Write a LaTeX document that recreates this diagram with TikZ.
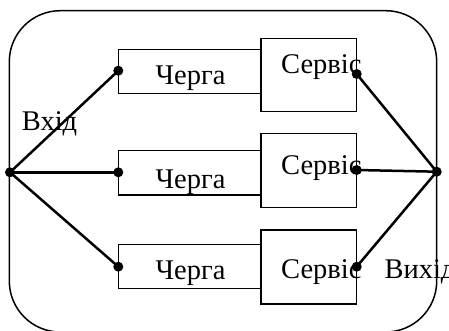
\documentclass[tikz,border=0pt]{standalone}
\usepackage{fontspec}
\setmainfont{Liberation Serif}
\begin{document}
\begin{tikzpicture}[x=1pt,y=-1pt,
  box/.style={draw,line width=1.5pt,fill=white},
  wire/.style={line width=2.5pt},
  dot/.style={circle,fill=black,inner sep=0pt,minimum size=10pt},
  lbl/.style={font=\fontsize{28.5}{30}\selectfont,inner sep=0pt,anchor=base west}]
\useasboundingbox (0,0) rectangle (449,331);
% outer frame
\draw[line width=1.5pt,rounded corners=51pt] (9.3,10.7) rectangle (436.7,332);
% queues
\foreach \n/\t/\b in {1/49.3/93.3, 2/150.7/195, 3/244.3/288.3}
  \draw[box] (118.3,\t) rectangle (261,\b);
% services
\foreach \n/\t/\b in {1/38.3/111.7, 2/133.3/207.3, 3/230/304}
  \draw[box] (261,\t) rectangle (356.7,\b);
% labels
\node[lbl] (q1) at (155.5,85) {Черга};
\node[lbl] (q2) at (155.5,188) {Черга};
\node[lbl] (q3) at (155.5,279.3) {Черга};
\node[lbl] (s1) at (281,73.3) {Сервіс};
\node[lbl] (s2) at (281,175) {Сервіс};
\node[lbl] (s3) at (281,278) {Сервіс};
\node[lbl] (inl) at (21.7,131) {Вхід};
\node[lbl] (outl) at (384.3,278) {Вихід};
% junction points
\node[dot] (in) at (10,172.3) {};
\node[dot] (out) at (436.7,171.7) {};
\node[dot] (qi1) at (118.3,70.7) {};
\node[dot] (qi2) at (118.3,172.3) {};
\node[dot] (qi3) at (118.3,266.7) {};
\node[dot] (so1) at (356.7,74) {};
\node[dot] (so2) at (356.7,170) {};
\node[dot] (so3) at (356.7,266.7) {};
% connectors
\foreach \i in {1,2,3} {
  \draw[wire] (in.center) -- (qi\i.center);
  \draw[wire] (so\i.center) -- (out.center);
}
\end{tikzpicture}
\end{document}
